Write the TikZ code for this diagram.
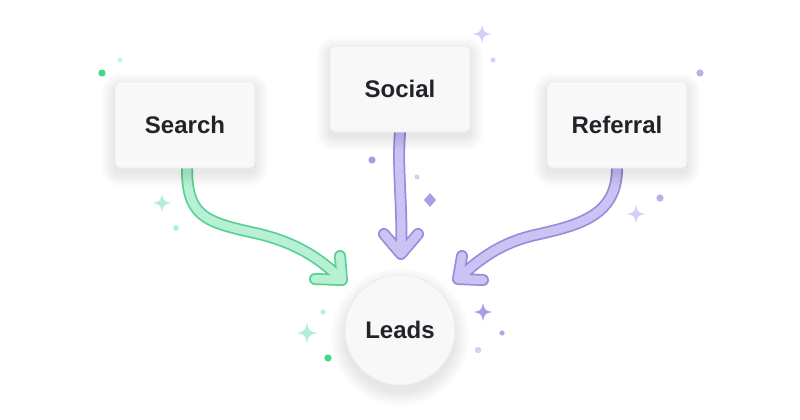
\documentclass[tikz,border=0pt]{standalone}
\usepackage{fontspec}
\setmainfont{Liberation Sans}
\definecolor{boxfill}{HTML}{F8F8F9}
\definecolor{cardline}{HTML}{EBEBEF}
\definecolor{ink}{HTML}{222228}
\definecolor{gdark}{HTML}{5CCF95}
\definecolor{glight}{HTML}{B6F1D3}
\definecolor{gdot}{HTML}{3FD98A}
\definecolor{gpale}{HTML}{B4EED6}
\definecolor{pdark}{HTML}{9A8CDD}
\definecolor{plight}{HTML}{CBC3F3}
\definecolor{pdot}{HTML}{A99DE6}
\definecolor{ppale}{HTML}{D5CFF6}
\pgfdeclarelayer{bg}
\pgfdeclarelayer{shadowlayer}
\pgfsetlayers{bg,shadowlayer,main}
\newcommand\tubearrow[3]{%
  \draw[#1, line width=12pt, line cap=round, line join=round] #3;
  \draw[#2, line width=8.5pt, line cap=round, line join=round] #3;}
\newcommand\cardshadow[1]{%
  \foreach \k in {0,...,11}{%
    \pgfmathsetmacro\ee{1.2*\k}%
    \pgfmathsetmacro\rr{5+1.2*\k}%
    \fill[black, opacity=0.008, rounded corners=\rr pt]
      ([xshift=-\ee pt, yshift=-5pt-\ee pt]#1.south west) rectangle
      ([xshift=\ee pt, yshift=-5pt+\ee pt]#1.north east);}}
\newcommand\hubshadow[1]{%
  \foreach \k in {0,...,11}{%
    \pgfmathsetmacro\ee{55+1.3*\k}%
    \fill[black, opacity=0.008] ([yshift=-7pt]#1.center) circle (\ee pt);}}
\tikzset{
  card/.style={draw=cardline, line width=0.6pt, fill=boxfill, rounded corners=5pt,
    minimum width=140pt, minimum height=86pt,
    font=\bfseries\fontsize{24}{28}\selectfont, text=ink},
  hub/.style={circle, draw=cardline, line width=0.6pt, fill=boxfill, minimum size=110pt,
    font=\bfseries\fontsize{24}{28}\selectfont, text=ink},
  sparkle/.pic={\fill (0,-1) .. controls (0.2,-0.2) .. (1,0) .. controls (0.2,0.2) .. (0,1)
      .. controls (-0.2,0.2) .. (-1,0) .. controls (-0.2,-0.2) .. (0,-1) -- cycle;}
}
\begin{document}
\begin{tikzpicture}[x=1pt,y=-1pt]
\begin{pgfonlayer}{bg}
\path[use as bounding box, fill=white] (0,0) rectangle (800,420);
\end{pgfonlayer}

\node[card] (search) at (185,125) {Search};
\node[card] (social) at (400,89) {Social};
\node[card] (referral) at (617,125) {Referral};
\node[hub] (leads) at (400,330) {Leads};

\begin{pgfonlayer}{shadowlayer}
\cardshadow{search}
\cardshadow{social}
\cardshadow{referral}
\hubshadow{leads}
\end{pgfonlayer}

\coordinate (gtip) at (342,280);
\coordinate (stip) at (401,254);
\coordinate (rtip) at (458,279);

\begin{pgfonlayer}{bg}
\tubearrow{gdark}{glight}{([xshift=2pt]search.south) .. controls +(0,48) and (205,222) .. (255,233)
   .. controls (295,242) and (320,258) .. (gtip)
   (gtip) +(-27,-1) -- (gtip) -- +(-2,-24)}
\tubearrow{pdark}{plight}{(social.south) .. controls +(-3,37) and (403,210) .. (stip)
   (stip) +(-17,-20) -- (stip) -- +(17,-20)}
\tubearrow{pdark}{plight}{(referral.south) .. controls +(0,47) and (580,225) .. (535,235)
   .. controls (500,243) and (478,260) .. (rtip)
   (rtip) +(4,-23) -- (rtip) -- +(25,1)}
\end{pgfonlayer}

% decorations
\fill[gdot] (102,73) circle (3.6pt);
\fill[gpale!70] (120,60) circle (2.5pt);
\pic[gpale, scale=9] at (162,203) {sparkle};
\fill[gpale] (176,228) circle (3pt);
\pic[gpale, scale=10] at (307,333) {sparkle};
\fill[gpale] (323,312) circle (2.5pt);
\fill[gdot] (328,358) circle (3.6pt);

\pic[ppale, scale=9] at (482,34) {sparkle};
\fill[ppale] (493,60) circle (2.5pt);
\fill[pdot!80] (700,73) circle (3.6pt);
\fill[pdot] (372,160) circle (3.6pt);
\fill[ppale] (417,177) circle (2.5pt);
\fill[pdot] (430,193) -- (436,200) -- (430,207) -- (424,200) -- cycle;
\fill[pdot!80] (660,198) circle (3.6pt);
\pic[ppale, scale=9] at (636,214) {sparkle};
\pic[pdot, scale=9] at (483,312) {sparkle};
\fill[pdot!90] (502,333) circle (2.6pt);
\fill[ppale] (478,350) circle (3.2pt);
\end{tikzpicture}
\end{document}
